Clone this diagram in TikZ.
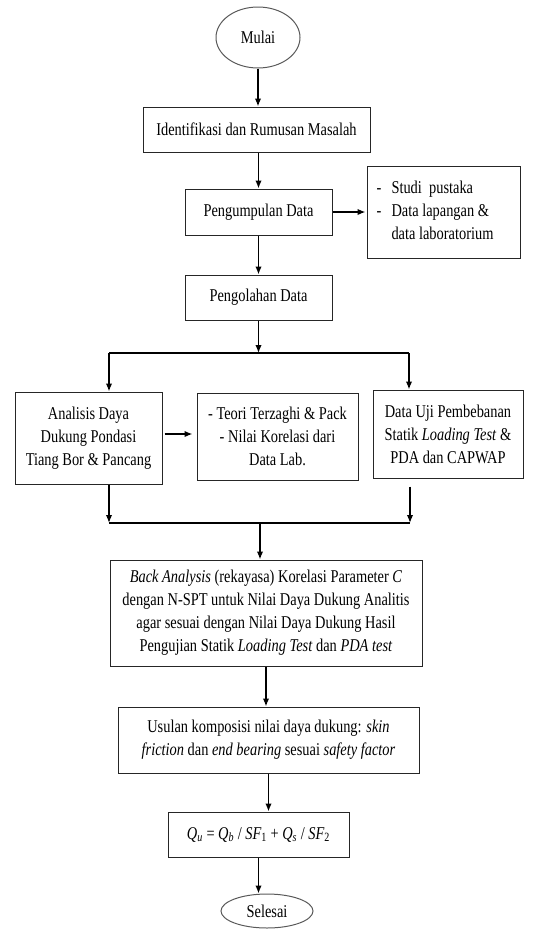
\documentclass[tikz,border=0pt]{standalone}
\usepackage{fontspec}
\setmainfont{Liberation Serif}[FakeStretch=0.8]
\usetikzlibrary{shapes.geometric,arrows.meta}
\newcommand{\Qsub}[1]{\textit{Q}\textsubscript{\textit{#1}}}
\newcommand{\SFsub}[1]{\textit{SF}\textsubscript{#1}}
\begin{document}
\begin{tikzpicture}[x=1pt, y=-1pt]
	\tikzset{>={Latex[length=8pt,width=6.5pt]}}
	\tikzset{kotak/.style={draw=black!85, line width=1pt, rectangle, align=center, inner sep=0pt, font=\fontsize{18}{23}\selectfont}}
	\tikzset{oval/.style={draw=black!65, line width=1pt, ellipse, inner sep=0pt, font=\fontsize{18}{23}\selectfont}}
	\tikzset{panah/.style={->, line width=1.5pt}}
	\useasboundingbox (0,0) rectangle (540,930);
	\node[oval, minimum width=84pt, minimum height=61pt] (mulai) at (258,37.5) {Mulai};
	\node[kotak, minimum width=227pt, minimum height=45pt] (identifikasi) at (256.5,129.5) {Identifikasi dan Rumusan Masalah};
	\node[kotak, minimum width=147pt, minimum height=46pt] (pengumpulan) at (258.5,212) {Pengumpulan Data};
	\node[kotak, minimum width=153pt, minimum height=92pt] (studi) at (443.5,212) {\begin{tabular}{@{}p{15pt}@{}l@{\hspace{17pt}}}-&Studi\ \ pustaka\\-&Data lapangan \&\\&data laboratorium\end{tabular}};
	\node[kotak, minimum width=147pt, minimum height=45pt] (pengolahan) at (258.5,297.5) {Pengolahan Data};
	\node[kotak, minimum width=147pt, minimum height=92pt] (analisis) at (88.5,438) {Analisis Daya\\Dukung Pondasi\\Tiang Bor \& Pancang};
	\node[kotak, minimum width=161pt, minimum height=87pt] (teori) at (277.5,436.5) {- Teori Terzaghi \& Pack\\- Nilai Korelasi dari\\Data Lab.};
	\node[kotak, minimum width=150pt, minimum height=88pt] (datauji) at (448,434) {Data Uji Pembebanan\\Statik \textit{Loading Test} \&\\PDA dan CAPWAP};
	\node[kotak, minimum width=312pt, minimum height=106pt] (back) at (266,613) {\textit{Back Analysis} (rekayasa) Korelasi Parameter \textit{C}\\dengan N-SPT untuk Nilai Daya Dukung Analitis\\agar sesuai dengan Nilai Daya Dukung Hasil\\Pengujian Statik \textit{Loading Test} dan \textit{PDA test}};
	\node[kotak, minimum width=301pt, minimum height=66pt] (usulan) at (268.5,740) {Usulan komposisi nilai daya dukung: \textit{skin}\\\textit{friction} dan \textit{end bearing} sesuai \textit{safety factor}};
	\node[kotak, minimum width=181pt, minimum height=45pt] (qu) at (258.5,834.5) {\Qsub{u} = \Qsub{b} / \SFsub{1} + \Qsub{s} / \SFsub{2}};
	\node[oval, minimum width=92pt, minimum height=34pt] (selesai) at (267,911) {Selesai};
	% percabangan
	\coordinate (cabang) at (258.5,353);
	\coordinate (cabangKiri) at (109,353);
	\coordinate (cabangKanan) at (409,353);
	\coordinate (gabung) at (260,523);
	\coordinate (gabungKiri) at (109,523);
	\coordinate (gabungKanan) at (410,523);
	\draw[panah] (mulai.south) -- (mulai.south |- identifikasi.north);
	\draw[panah] (pengumpulan.north |- identifikasi.south) -- (pengumpulan.north);
	\draw[panah] (pengumpulan.east) -- ([xshift=-1pt]studi.west |- pengumpulan.east);
	\draw[panah] (pengumpulan.south) -- (pengolahan.north);
	\draw[panah] (pengolahan.south) -- (cabang);
	\draw[line width=1.5pt] (cabangKiri) -- (cabangKanan);
	\draw[panah] (cabangKiri) -- (cabangKiri |- analisis.north);
	\draw[panah] (cabangKanan) -- (cabangKanan |- datauji.north);
	\draw[panah] ([xshift=2pt]analisis.east |- datauji.west) -- ([xshift=-4pt]teori.west |- datauji.west);
	\draw[panah] (gabungKiri |- analisis.south) -- (gabungKiri);
	\draw[panah] ([yshift=-8pt]gabungKanan |- datauji.south) -- (gabungKanan);
	\draw[line width=1.5pt] (gabungKiri) -- (gabungKanan);
	\draw[panah] (gabung) -- (gabung |- back.north);
	\draw[panah] (back.south) -- (back.south |- usulan.north);
	\draw[panah] (usulan.south) -- (usulan.south |- qu.north);
	\draw[panah] (qu.south) -- (qu.south |- selesai.north);
\end{tikzpicture}
\end{document}
